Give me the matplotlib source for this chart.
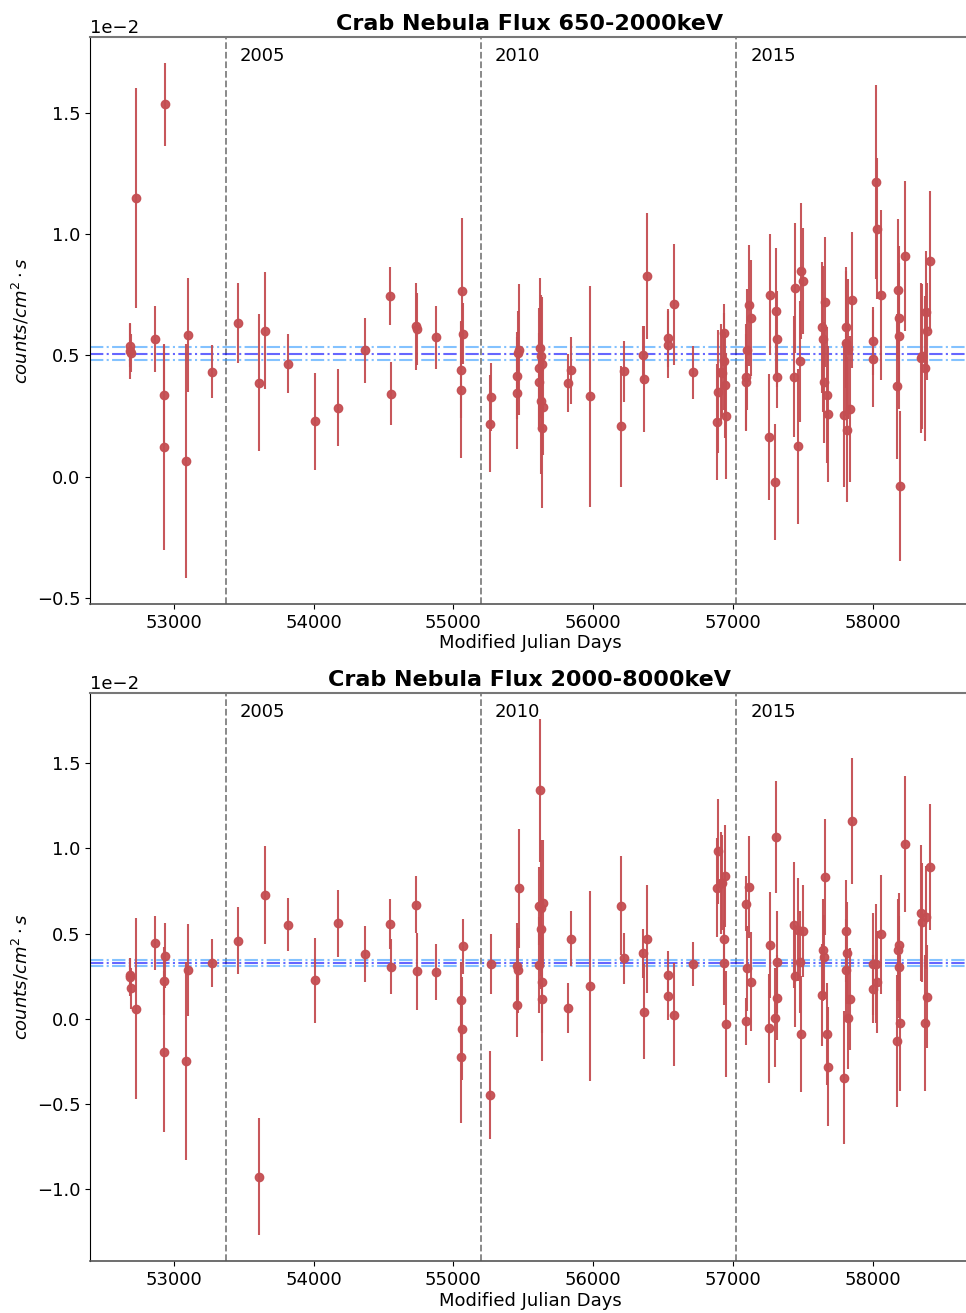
import numpy as np
import matplotlib
matplotlib.use('Agg')
import matplotlib.pyplot as plt
import matplotlib.transforms as mtransforms

# observation epochs (MJD), shared by both energy bands
mjd = [52688, 52690, 52692, 52734, 52864, 52929, 52931, 52936, 53090, 53102,
       53276, 53457, 53612, 53652, 53821, 54007, 54176, 54369, 54548, 54552,
       54734, 54738, 54876, 55055, 55057, 55062, 55069, 55262, 55266, 55455,
       55457, 55462, 55467, 55610, 55612, 55621, 55624, 55628, 55631, 55636,
       55640, 55819, 55843, 55974, 56195, 56217, 56355, 56359, 56383, 56531,
       56535, 56575, 56712, 56883, 56893, 56912, 56921, 56931, 56936, 56943,
       56952, 57089, 57093, 57102, 57114, 57126, 57255, 57264, 57300, 57307,
       57312, 57314, 57433, 57443, 57466, 57476, 57486, 57498, 57633, 57643,
       57647, 57659, 57669, 57679, 57793, 57803, 57807, 57814, 57822, 57836,
       57850, 57998, 58002, 58022, 58026, 58055, 58169, 58181, 58185, 58188,
       58195, 58229, 58340, 58350, 58371, 58381, 58385, 58407]

# 650-2000 keV flux and error, units of 1e-2 counts/cm^2 s
flux_low = [0.541, 0.518, 0.510, 1.150, 0.569, 0.338, 0.121, 1.537, 0.063, 0.584,
            0.433, 0.634, 0.388, 0.603, 0.466, 0.229, 0.285, 0.521, 0.747, 0.342,
            0.621, 0.610, 0.576, 0.442, 0.358, 0.766, 0.590, 0.218, 0.328, 0.345,
            0.417, 0.512, 0.524, 0.447, 0.392, 0.531, 0.499, 0.312, 0.202, 0.463,
            0.288, 0.386, 0.438, 0.331, 0.208, 0.434, 0.502, 0.403, 0.827, 0.573,
            0.545, 0.712, 0.430, 0.225, 0.351, 0.430, 0.427, 0.593, 0.476, 0.379,
            0.251, 0.412, 0.389, 0.523, 0.707, 0.654, 0.164, 0.750, -0.023, 0.683,
            0.568, 0.412, 0.412, 0.779, 0.126, 0.476, 0.848, 0.808, 0.616, 0.568,
            0.389, 0.721, 0.336, 0.259, 0.256, 0.616, 0.550, 0.193, 0.527, 0.279,
            0.730, 0.560, 0.486, 1.217, 1.024, 0.750, 0.372, 0.772, 0.654, 0.580,
            -0.038, 0.912, 0.488, 0.496, 0.447, 0.680, 0.600, 0.891]
err_low = [0.09, 0.115, 0.08, 0.453, 0.136, 0.21, 0.423, 0.172, 0.483, 0.234,
           0.11, 0.164, 0.282, 0.24, 0.121, 0.2, 0.16, 0.133, 0.12, 0.13,
           0.18, 0.15, 0.13, 0.2, 0.28, 0.30, 0.125, 0.20, 0.14, 0.23,
           0.18, 0.17, 0.27, 0.25, 0.2, 0.29, 0.25, 0.3, 0.33, 0.28,
           0.2, 0.12, 0.14, 0.457, 0.25, 0.125, 0.12, 0.22, 0.26, 0.12,
           0.14, 0.25, 0.11, 0.24, 0.255, 0.2, 0.18, 0.12, 0.2, 0.22,
           0.26, 0.22, 0.2, 0.25, 0.25, 0.24, 0.26, 0.25, 0.24, 0.26,
           0.2, 0.13, 0.25, 0.27, 0.32, 0.25, 0.28, 0.22, 0.27, 0.3,
           0.25, 0.27, 0.28, 0.28, 0.3, 0.25, 0.3, 0.3, 0.29, 0.3,
           0.28, 0.14, 0.2, 0.4, 0.29, 0.35, 0.3, 0.29, 0.3, 0.3,
           0.31, 0.31, 0.31, 0.3, 0.3, 0.25, 0.2, 0.29]

# 2000-8000 keV flux and error, units of 1e-2 counts/cm^2 s
flux_high = [0.255, 0.245, 0.180, 0.059, 0.445, 0.224, -0.192, 0.371, -0.247, 0.288,
             0.327, 0.459, -0.927, 0.727, 0.553, 0.225, 0.561, 0.380, 0.557, 0.306,
             0.671, 0.278, 0.273, 0.112, -0.222, -0.057, 0.425, -0.446, 0.323, 0.084,
             0.312, 0.286, 0.765, 0.661, 0.316, 1.341, 0.526, 0.650, 0.218, 0.114,
             0.678, 0.062, 0.471, 0.192, 0.663, 0.356, 0.384, 0.042, 0.469, 0.258,
             0.136, 0.025, 0.321, 0.770, 0.983, 0.796, 0.800, 0.467, 0.329, 0.839,
             -0.030, 0.676, -0.015, 0.297, 0.776, 0.218, -0.054, 0.432, 0.007, 1.066,
             0.332, 0.123, 0.549, 0.251, 0.524, 0.334, -0.087, 0.515, 0.138, 0.406,
             0.360, 0.833, -0.087, -0.281, -0.346, 0.515, 0.286, 0.388, 0.007, 0.118,
             1.162, 0.323, 0.175, 0.323, 0.214, 0.497, -0.130, 0.404, 0.436, 0.306,
             -0.025, 1.027, 0.622, 0.567, -0.025, 0.595, 0.131, 0.889]
err_high = [0.10, 0.11, 0.12, 0.53, 0.157, 0.2, 0.47, 0.19, 0.58, 0.27,
            0.14, 0.196, 0.343, 0.287, 0.157, 0.247, 0.196, 0.166, 0.149, 0.16,
            0.167, 0.225, 0.165, 0.22, 0.39, 0.3, 0.16, 0.258, 0.175, 0.19,
            0.25, 0.25, 0.35, 0.23, 0.28, 0.42, 0.35, 0.4, 0.3, 0.36,
            0.37, 0.146, 0.163, 0.556, 0.29, 0.15, 0.146, 0.28, 0.318, 0.14,
            0.14, 0.3, 0.13, 0.29, 0.31, 0.3, 0.28, 0.3, 0.25, 0.3,
            0.31, 0.16, 0.14, 0.25, 0.3, 0.29, 0.32, 0.31, 0.29, 0.33,
            0.3, 0.25, 0.37, 0.3, 0.3, 0.3, 0.34, 0.27, 0.3, 0.3,
            0.25, 0.34, 0.3, 0.35, 0.39, 0.3, 0.3, 0.3, 0.3, 0.3,
            0.37, 0.3, 0.2, 0.35, 0.3, 0.35, 0.39, 0.3, 0.3, 0.3,
            0.4, 0.40, 0.4, 0.35, 0.4, 0.3, 0.3, 0.37]

# mean flux and its spread per band (units of 1e-2)
mean_low, spread_low = 0.507, 0.027
mean_high, spread_high = 0.330, 0.017

years = ['2005', '2010', '2015']
year_mjd = [53371, 55197, 57023]

titles = ['Crab Nebula Flux 650-2000keV', 'Crab Nebula Flux 2000-8000keV']

SCALE = 1e-2
RED = '#c44e52'

W, H = 966, 1313
fig = plt.figure(figsize=(W / 100, H / 100), dpi=100)
ax_top = fig.add_axes([90 / W, (H - 604) / H, 880 / W, 567 / H])
ax_bot = fig.add_axes([90 / W, (H - 1261) / H, 880 / W, 568 / H])

panels = [
    (ax_top, flux_low, err_low, mean_low, spread_low, titles[0]),
    (ax_bot, flux_high, err_high, mean_high, spread_high, titles[1]),
]

for ax, flux, err, mean, spread, title in panels:
    ax.errorbar(mjd, np.array(flux) * SCALE, yerr=np.array(err) * SCALE,
                fmt='o', color=RED, ecolor=RED, ms=6, elinewidth=1.5, alpha=0.95, zorder=3)

    ax.axhline(mean * SCALE, color='blue', ls='-.', lw=1.5, alpha=0.6, zorder=2)
    for s in (-1, 1):
        ax.axhline((mean + s * spread) * SCALE, color='#1e90ff', ls='-.', lw=1.5,
                   alpha=0.55, zorder=2)

    trans = mtransforms.blended_transform_factory(ax.transData, ax.transAxes)
    for yr, xm in zip(years, year_mjd):
        ax.axvline(xm, color='gray', ls='--', lw=1.3, zorder=1)
        ax.text(xm + 100, 0.967, yr, transform=trans, fontsize=13, va='center', ha='left')

    ax.set_title(title, fontsize=16, fontweight='bold', pad=5)
    ax.set_xlabel('Modified Julian Days', fontsize=13, labelpad=2)
    ax.set_ylabel(r'$counts/cm^2 \cdot s$', fontsize=13)
    ax.tick_params(labelsize=13)
    ax.ticklabel_format(axis='y', style='sci', scilimits=(-2, -2))
    ax.yaxis.get_offset_text().set_fontsize(13)

    ax.spines['left'].set_color('black')
    ax.spines['top'].set_color('#777777')
    ax.spines['top'].set_linewidth(1.5)
    ax.spines['bottom'].set_color('#555555')
    ax.spines['bottom'].set_linewidth(1.2)

fig.savefig('out.png', dpi=100)
